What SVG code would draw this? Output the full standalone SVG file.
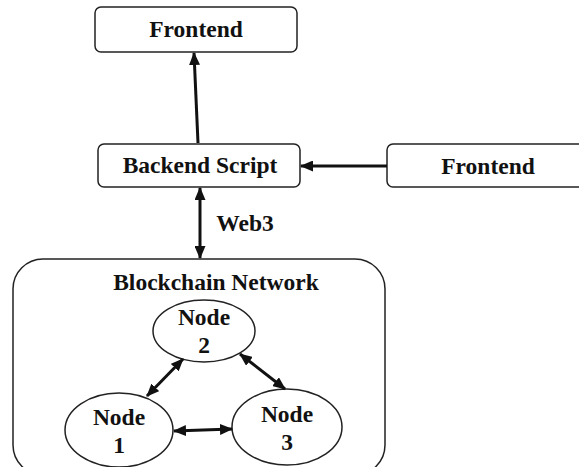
<svg xmlns="http://www.w3.org/2000/svg" width="579" height="467" viewBox="0 0 579 467">
<style>
.box{fill:#fff;stroke:#222;stroke-width:1.5}
.t{font-family:"Liberation Serif","Times New Roman",serif;font-weight:bold;font-size:23.5px;fill:#111;text-anchor:middle}
.c{stroke:#111;stroke-width:3;fill:none;marker-end:url(#ah)}
.d{marker-start:url(#as)}
</style>
<defs>
<marker id="ah" markerUnits="userSpaceOnUse" markerWidth="13" markerHeight="11" refX="12" refY="5.5" orient="auto"><path d="M0,0 L13,5.5 L0,11 Z" fill="#111"/></marker>
<marker id="as" markerUnits="userSpaceOnUse" markerWidth="13" markerHeight="11" refX="1" refY="5.5" orient="auto"><path d="M13,0 L0,5.5 L13,11 Z" fill="#111"/></marker>
</defs>
<g id="blockchain"><rect class="box" x="13" y="259" width="372" height="216" rx="30"/><text class="t" x="216" y="290">Blockchain Network</text></g>
<g id="frontend-top"><rect class="box" x="95" y="7" width="202" height="45" rx="6"/><text class="t" x="196" y="37">Frontend</text></g>
<g id="backend"><rect class="box" x="98" y="144" width="202" height="43" rx="6"/><text class="t" x="200" y="173">Backend Script</text></g>
<g id="frontend-right"><rect class="box" x="387" y="144" width="200" height="43" rx="6"/><text class="t" x="488" y="174">Frontend</text></g>
<g id="node2"><ellipse class="box" cx="204" cy="331" rx="51" ry="31"/><text class="t" x="204" y="325">Node</text><text class="t" x="204" y="353">2</text></g>
<g id="node1"><ellipse class="box" cx="119" cy="430" rx="54" ry="37"/><text class="t" x="119" y="425">Node</text><text class="t" x="119" y="453">1</text></g>
<g id="node3"><ellipse class="box" cx="287" cy="427" rx="55" ry="38"/><text class="t" x="287" y="422">Node</text><text class="t" x="287" y="450">3</text></g>
<g id="connectors">
<line class="c" x1="198" y1="143" x2="194" y2="53"/>
<line class="c" x1="387" y1="166" x2="301" y2="166"/>
<line class="c d" x1="200" y1="188" x2="200" y2="258"/>
<line class="c d" x1="147" y1="396" x2="183" y2="359"/>
<line class="c d" x1="240" y1="354" x2="285" y2="389"/>
<line class="c d" x1="174" y1="431" x2="232" y2="429"/>
<text class="t" x="245" y="231">Web3</text>
</g>
</svg>
